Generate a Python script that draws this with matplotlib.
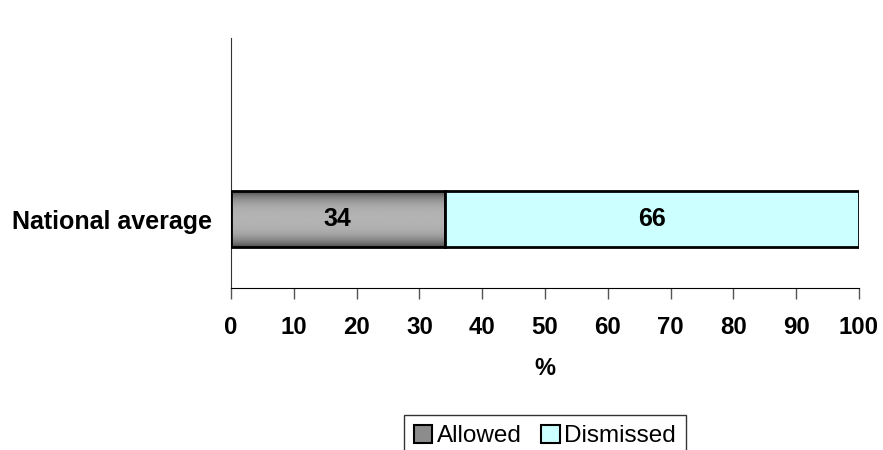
import numpy as np
import matplotlib.pyplot as plt
from matplotlib.patches import Patch

plt.rcParams['font.family'] = ['Liberation Sans', 'DejaVu Sans']

categories = ["National average"]
allowed = [34]
dismissed = [66]
series_names = ["Allowed", "Dismissed"]
xticks = list(range(0, 101, 10))

fig = plt.figure(figsize=(8.83, 4.5), dpi=100)
ax = fig.add_axes([231/883, 1 - 288/450, (859 - 231)/883, (288 - 38)/450])

y = np.arange(len(categories))
h = 1.0
b1 = ax.barh(y, allowed, height=h, color="none", edgecolor="black", lw=2, zorder=3)
b2 = ax.barh(y, dismissed, left=allowed, height=h, color="#ccffff",
             edgecolor="black", lw=2, zorder=3)

# gray gradient for the "Allowed" bars
t = np.linspace(-1, 1, 200)
shade = 0.70 - 0.40 * np.abs(t) ** 3
grad = np.repeat(shade[:, None], 2, axis=1)
for rect in b1:
    x0, y0 = rect.get_x(), rect.get_y()
    im = ax.imshow(grad, cmap="gray", vmin=0, vmax=1, aspect="auto",
                   extent=(x0, x0 + rect.get_width(), y0, y0 + rect.get_height()),
                   zorder=2, interpolation="bilinear")
    im.set_clip_path(rect)

for i in range(len(categories)):
    ax.text(allowed[i] / 2, y[i], str(allowed[i]), ha="center", va="center",
            fontsize=18, fontweight="bold", zorder=4)
    ax.text(allowed[i] + dismissed[i] / 2, y[i], str(dismissed[i]), ha="center",
            va="center", fontsize=18, fontweight="bold", zorder=4)

ax.set_xlim(0, 100)
ax.set_ylim(-69/56, 181/56)
ax.set_xticks(xticks)
ax.set_xticklabels([str(v) for v in xticks], fontsize=17.3, fontweight="bold")
ax.set_yticks(y)
ax.set_yticklabels(categories, fontsize=18, fontweight="bold")
ax.tick_params(axis="x", direction="out", length=8, width=1, color="#555555", pad=12)
ax.tick_params(axis="y", length=0, pad=14)
for s in ["top", "right"]:
    ax.spines[s].set_visible(False)
ax.spines["left"].set_color("#333333")
ax.spines["bottom"].set_color("black")
ax.set_xlabel("%", fontsize=17, fontweight="bold", labelpad=13)

handles = [Patch(facecolor="#8c8c8c", edgecolor="black", lw=1.5),
           Patch(facecolor="#ccffff", edgecolor="black", lw=1.5)]
leg = fig.legend(handles, series_names, loc="upper center",
                 bbox_to_anchor=(545/883, 1 - 415/450), ncol=2, fontsize=17.5,
                 frameon=True, fancybox=False, edgecolor="black",
                 handlelength=0.75, handleheight=0.75, handletextpad=0.2,
                 columnspacing=0.8, borderpad=0.4, borderaxespad=0)
leg.get_frame().set_linewidth(1)

fig.savefig("out.png", dpi=100)
